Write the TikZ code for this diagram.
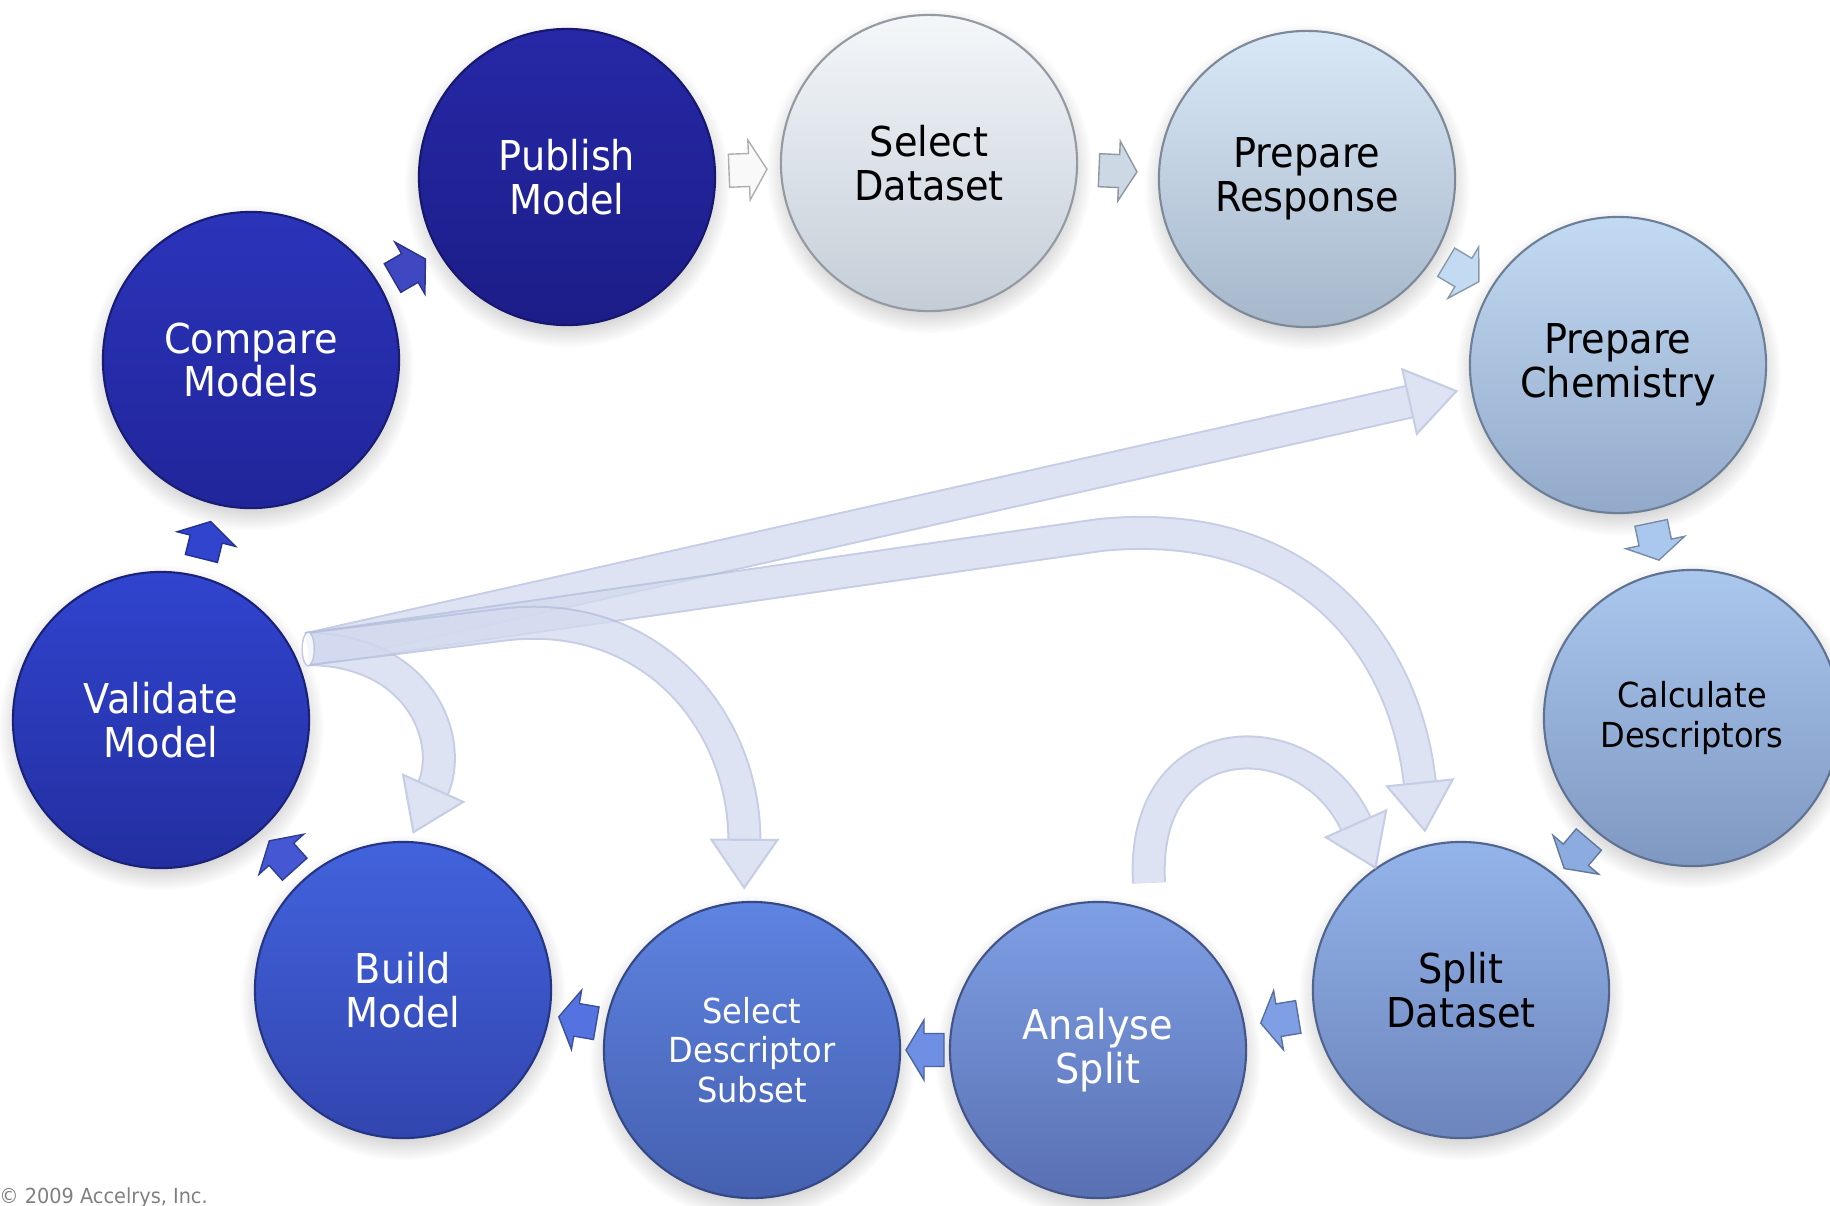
\documentclass[tikz,border=0pt]{standalone}
\usepackage{fontspec}
\setmainfont{DejaVu Sans}[FakeStretch=0.93]
\usepackage{tikz}
\usetikzlibrary{calc, decorations.markings, shadows, positioning}

% stage colours, light to dark
\definecolor{selTop}{HTML}{F4F7FA}\definecolor{selBot}{HTML}{C4CDD7}
\definecolor{respTop}{HTML}{D9E8F6}\definecolor{respBot}{HTML}{A6B7CB}
\definecolor{chemTop}{HTML}{C3DAF3}\definecolor{chemBot}{HTML}{92A9CA}
\definecolor{calcTop}{HTML}{AAC7EE}\definecolor{calcBot}{HTML}{7F98C1}
\definecolor{splitTop}{HTML}{93B4EA}\definecolor{splitBot}{HTML}{6C85BC}
\definecolor{analTop}{HTML}{7F9FE4}\definecolor{analBot}{HTML}{5970B3}
\definecolor{sdsTop}{HTML}{5E83E1}\definecolor{sdsBot}{HTML}{4560AF}
\definecolor{buildTop}{HTML}{4263DD}\definecolor{buildBot}{HTML}{3245AF}
\definecolor{validTop}{HTML}{3044CE}\definecolor{validBot}{HTML}{232EA0}
\definecolor{compTop}{HTML}{2B34BA}\definecolor{compBot}{HTML}{21259A}
\definecolor{pubTop}{HTML}{2628A6}\definecolor{pubBot}{HTML}{1C1D88}
\definecolor{flowFill}{HTML}{D3DAEF}
\definecolor{flowEdge}{HTML}{B3BDDC}

\tikzstyle{stage}=[circle, minimum size=2.96cm, inner sep=0pt, align=center, line width=0.6pt,
  font=\fontsize{11.7}{12.5}\selectfont,
  circular drop shadow={shadow xshift=0pt, shadow yshift=-0.07cm, opacity=0.35}]
\tikzstyle{smaller}=[font=\fontsize{9.8}{11.3}\selectfont]
\tikzset{
  hop/.style={decorate, decoration={markings, mark=at position 0.5 with {
    \filldraw[fill=#1, draw=#1!70!black, line width=0.4pt]
      (-0.19cm,-0.165cm) -- (0.01cm,-0.165cm) -- (0.01cm,-0.30cm) -- (0.19cm,0cm)
      -- (0.01cm,0.30cm) -- (0.01cm,0.165cm) -- (-0.19cm,0.165cm) -- cycle;}}},
  flow/.style={line width=0.30cm, draw=flowFill, shorten >=0.46cm,
    preaction={draw=flowEdge, line width=0.34cm, shorten >=0.46cm},
    postaction={decorate, decoration={markings, mark=at position 0.9995 with {
      \filldraw[fill=flowFill, draw=flowEdge, line width=0.6pt]
        (0,0) -- (-0.48cm,0.33cm) -- (-0.48cm,-0.33cm) -- cycle;}}}}
}

\begin{document}
\begin{tikzpicture}[x=0.01cm, y=-0.01cm]
  \useasboundingbox (0,0) rectangle (1830,1205);

  \node[stage, top color=pubTop, bottom color=pubBot, draw=pubBot!80!black, text=white]
    (pub) at (567,177) {Publish\\Model};
  \node[stage, top color=selTop, bottom color=selBot, draw=selBot!75!black]
    (sel) at (929,163) {Select\\Dataset};
  \node[stage, top color=respTop, bottom color=respBot, draw=respBot!75!black]
    (resp) at (1307,179) {Prepare\\Response};
  \node[stage, top color=chemTop, bottom color=chemBot, draw=chemBot!75!black]
    (chem) at (1618,365) {Prepare\\Chemistry};
  \node[stage, smaller, top color=calcTop, bottom color=calcBot, draw=calcBot!75!black]
    (calc) at (1692,718) {Calculate\\Descriptors};
  \node[stage, top color=splitTop, bottom color=splitBot, draw=splitBot!75!black]
    (split) at (1461,990) {Split\\Dataset};
  \node[stage, top color=analTop, bottom color=analBot, draw=analBot!75!black, text=white]
    (anal) at (1098,1050) {Analyse\\Split};
  \node[stage, smaller, top color=sdsTop, bottom color=sdsBot, draw=sdsBot!75!black, text=white]
    (sds) at (752,1050) {Select\\Descriptor\\Subset};
  \node[stage, top color=buildTop, bottom color=buildBot, draw=buildBot!75!black, text=white]
    (build) at (403,990) {Build\\Model};
  \node[stage, top color=validTop, bottom color=validBot, draw=validBot!75!black, text=white]
    (valid) at (161,720) {Validate\\Model};
  \node[stage, top color=compTop, bottom color=compBot, draw=compBot!75!black, text=white]
    (comp) at (251,360) {Compare\\Models};

  % small arrows round the cycle
  \foreach \a/\b/\col in {pub/sel/white!95!gray, sel/resp/respTop!85!gray,
      resp/chem/chemTop, chem/calc/calcTop, calc/split/splitTop!95!black,
      split/anal/analTop, anal/sds/sdsTop!90!white, sds/build/buildTop!90!white,
      build/valid/validTop!90!white, valid/comp/validTop, comp/pub/compTop!90!white}
    \path[hop=\col] (\a) -- (\b);

  % feedback arrows, all leaving from the same tube end
  \coordinate (hub) at ([shift={(0.12cm,0.08cm)}]valid.25);
  \begin{scope}[transparency group, opacity=0.75]
    \draw[flow] (hub) -- ([xshift=-0.14cm]chem.190);
  \end{scope}
  \begin{scope}[transparency group, opacity=0.75]
    \draw[flow] (hub) -- (1100,535) .. controls (1300,515) and (1405,640)
      .. ([yshift=0.14cm]split.104);
  \end{scope}
  \begin{scope}[transparency group, opacity=0.75]
    \draw[flow] (hub) .. controls (420,650) and (455,740) .. ([yshift=0.09cm]build.86);
  \end{scope}
  \begin{scope}[transparency group, opacity=0.75]
    \draw[flow] (hub) -- (500,625) .. controls (650,605) and (745,720)
      .. ([yshift=0.13cm]sds.93);
  \end{scope}
  \begin{scope}[transparency group, opacity=0.75]
    \draw[flow] ([yshift=0.27cm]anal.70) .. controls (1140,720) and (1310,720) .. (split.125);
  \end{scope}
  \filldraw[fill=white, draw=flowEdge, opacity=0.8] (hub) ellipse [x radius=6, y radius=17];

  \node[anchor=base west, text=gray, font=\fontsize{5.9}{7}\selectfont]
    (copy) at (-13,1203) {© 2009 Accelrys, Inc.};
\end{tikzpicture}
\end{document}
